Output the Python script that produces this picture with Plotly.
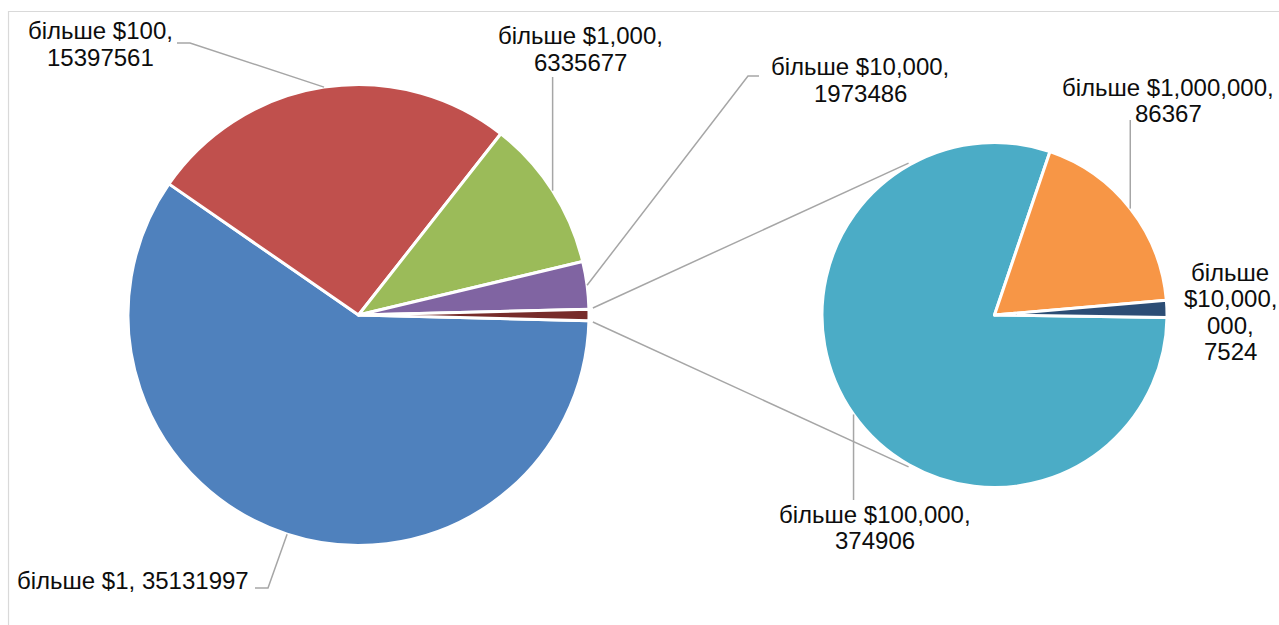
import math
import plotly.graph_objects as go

W, H = 1279, 625

# ---- data ----
main_labels = ["більше $1", "більше $100", "більше $1,000", "більше $10,000"]
main_values = [35131997, 15397561, 6335677, 1973486]
sub_labels = ["більше $100,000", "більше $1,000,000", "більше $10,000,000"]
sub_values = [374906, 86367, 7524]
other_value = sum(sub_values)

main_colors = ["#4F81BD", "#C0504D", "#9BBB59", "#8064A2", "#772C2A"]
sub_colors = ["#4BACC6", "#F79646", "#2C4D75"]

# ---- geometry (pixels) ----
MAIN_C, MAIN_R = (358.5, 315.0), 230.5
SUB_C, SUB_R = (994.5, 315.0), 172.5
main_all = main_values + [other_value]
main_rot = 90 + 0.5 * 360 * other_value / sum(main_all)
sub_rot = 90.85


def px(x):
    return x / W


def py(y):
    return 1 - y / H


def dom(c, r):
    return dict(x=[px(c[0] - r), px(c[0] + r)], y=[py(c[1] + r), py(c[1] - r)])


def mid_angles(vals, rot):
    tot = sum(vals)
    out, a = [], rot
    for v in vals:
        span = 360 * v / tot
        out.append(a + span / 2)
        a += span
    return out


def edge(c, r, ang):
    t = math.radians(ang)
    return (c[0] + r * math.sin(t), c[1] - r * math.cos(t))


fig = go.Figure()
fig.add_trace(go.Pie(
    labels=main_labels + ["Other"], values=main_all, sort=False,
    direction="clockwise", rotation=main_rot, textinfo="none",
    marker=dict(colors=main_colors, line=dict(color="white", width=3)),
    domain=dom(MAIN_C, MAIN_R), hoverinfo="label+value", showlegend=False,
))
fig.add_trace(go.Pie(
    labels=sub_labels, values=sub_values, sort=False,
    direction="clockwise", rotation=sub_rot, textinfo="none",
    marker=dict(colors=sub_colors, line=dict(color="white", width=3)),
    domain=dom(SUB_C, SUB_R), hoverinfo="label+value", showlegend=False,
))

shapes = []
GRAY = "#A6A6A6"


def seg(pts, color=GRAY, width=1.5):
    path = "M " + " L ".join(f"{px(x):.5f},{py(y):.5f}" for x, y in pts)
    shapes.append(dict(type="path", path=path, xref="paper", yref="paper",
                       line=dict(color=color, width=width)))


# frame
seg([(8.5, 640), (8.5, 11.5), (1300, 11.5)], color="#D9D9D9", width=1.2)

# connector lines between pies
ma = mid_angles(main_all, main_rot)
half = 0.5 * 360 * other_value / sum(main_all)
p_top = edge(MAIN_C, MAIN_R + 4, ma[-1] - half - 0.3)
p_bot = edge(MAIN_C, MAIN_R + 4, ma[-1] + half + 0.3)
s_top = edge(SUB_C, SUB_R + 2, 330.5)
s_bot = edge(SUB_C, SUB_R + 2, 209.5)
seg([p_top, s_top])
seg([p_bot, s_bot])

# leader lines
sa = mid_angles(sub_values, sub_rot)
e = [edge(MAIN_C, MAIN_R, a) for a in ma]
es = [edge(SUB_C, SUB_R, a) for a in sa]
seg([(255, 588), (268, 588), e[0]])
seg([(177, 43), (190, 43), e[1]])
seg([(e[2][0], 77), e[2]])
seg([(759, 76), (748, 76), e[3]])
seg([(es[0][0], 500), es[0]])
seg([(es[1][0], 120), es[1]])

annotations = []
FONT = dict(family="Liberation Sans, Arial, sans-serif", size=24, color="#0D0D0D")


def label(lines, cx, y0, dy=26.5):
    for i, ln in enumerate(lines):
        annotations.append(dict(
            x=px(cx), y=py(y0 + i * dy), xref="paper", yref="paper",
            text=ln, showarrow=False, xanchor="center", yanchor="middle",
            font=FONT))


def two(name, val):
    return [f"{name},", f"{val}"]


# the narrow label of the smallest slice wraps over four lines
w_first, w_amount = sub_labels[2].split(" ")
w_split = w_amount.index(",", 4) + 1
label([w_first, w_amount[:w_split], w_amount[w_split:] + ",", f"{sub_values[2]}"],
      1230, 272)

label([f"{main_labels[0]}, {main_values[0]}"], 132.5, 580)
label(two(main_labels[1], main_values[1]), 100, 31)
label(two(main_labels[2], main_values[2]), 580, 36)
label(two(main_labels[3], main_values[3]), 860, 67)
label(two(sub_labels[0], sub_values[0]), 875, 514)
label(two(sub_labels[1], sub_values[1]), 1168, 87)

fig.update_layout(
    width=W, height=H, margin=dict(l=0, r=0, t=0, b=0),
    paper_bgcolor="white", plot_bgcolor="white",
    shapes=shapes, annotations=annotations, showlegend=False,
)
fig.write_html("out.html",
               config={"displayModeBar": False},
               post_script="document.body.style.margin='0';"
                           "document.body.style.overflow='hidden';")
